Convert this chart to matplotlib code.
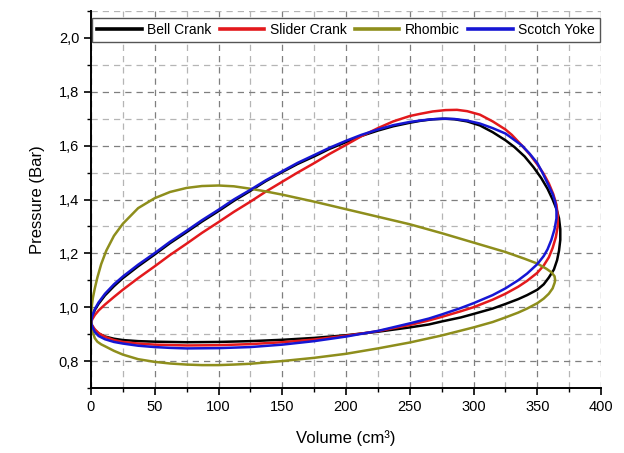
import matplotlib

matplotlib.use("Agg")
import matplotlib.pyplot as plt
from matplotlib.ticker import MultipleLocator, FuncFormatter

plt.rcParams["font.family"] = ["Liberation Sans", "DejaVu Sans"]

############### DATA #########################################
# each loop: start at V=0, lower branch to the right, back along the upper branch

bell_v = [0, 1, 3, 6, 11, 18, 25, 37, 50, 75, 100, 125, 150, 175, 200, 225,
          250, 265, 275, 290, 300, 315, 325, 335, 342, 350, 355, 359, 363,
          365.5, 367, 368, 368, 367, 365, 362, 358, 353, 347, 340, 332, 325,
          315, 305, 295, 285, 278, 268, 258, 250, 237, 225, 212, 200, 187, 175,
          162, 150, 137, 125, 112, 100, 87, 75, 62, 50, 37, 25, 18, 11, 6, 3,
          1, 0]
bell_p = [0.942, 0.93, 0.915, 0.902, 0.891, 0.883, 0.878, 0.874, 0.872, 0.870,
          0.871, 0.874, 0.879, 0.886, 0.896, 0.909, 0.925, 0.936, 0.947, 0.962,
          0.975, 0.995, 1.012, 1.03, 1.045, 1.065, 1.085, 1.11, 1.14, 1.175,
          1.21, 1.25, 1.29, 1.33, 1.365, 1.40, 1.44, 1.48, 1.52, 1.56, 1.595,
          1.62, 1.65, 1.675, 1.69, 1.698, 1.70, 1.698, 1.692, 1.685, 1.672,
          1.656, 1.636, 1.613, 1.588, 1.56, 1.532, 1.502, 1.468, 1.432, 1.395,
          1.357, 1.318, 1.279, 1.238, 1.196, 1.152, 1.108, 1.078, 1.044, 1.013,
          0.99, 0.965, 0.942]

slider_v = [0, 1, 3, 6, 11, 18, 25, 37, 50, 75, 100, 125, 150, 175, 200, 225,
            250, 265, 275, 290, 300, 315, 325, 335, 342, 350, 355, 359, 362,
            364.5, 366, 366, 365, 362.5, 359, 355, 350, 344, 338, 330, 325, 315,
            305, 295, 287, 278, 268, 258, 250, 237, 225, 212, 200, 187, 175,
            162, 150, 137, 125, 112, 100, 87, 75, 62, 50, 37, 25, 18, 11, 6, 3,
            1, 0]
slider_p = [0.942, 0.932, 0.918, 0.904, 0.89, 0.878, 0.871, 0.865, 0.861,
            0.858, 0.859, 0.863, 0.870, 0.880, 0.894, 0.911, 0.934, 0.951,
            0.964, 0.985, 1.0, 1.028, 1.05, 1.076, 1.098, 1.128, 1.155, 1.185,
            1.22, 1.26, 1.30, 1.34, 1.38, 1.42, 1.46, 1.495, 1.53, 1.568, 1.60,
            1.64, 1.66, 1.69, 1.715, 1.728, 1.733, 1.732, 1.727, 1.718, 1.71,
            1.69, 1.665, 1.635, 1.603, 1.569, 1.535, 1.50, 1.466, 1.429, 1.392,
            1.354, 1.316, 1.276, 1.236, 1.194, 1.152, 1.108, 1.065, 1.038, 1.01,
            0.988, 0.971, 0.955, 0.942]

rhombic_v = [0, 0.5, 1.5, 3, 5, 8, 11, 18, 25, 37, 50, 62, 75, 87, 100, 112,
             125, 150, 175, 200, 225, 250, 275, 300, 315, 325, 335, 342, 350,
             355, 359, 362, 363.5, 364, 363.5, 361, 357, 350, 340, 325, 300,
             275, 250, 225, 200, 175, 150, 137, 125, 112, 100, 87, 75, 62, 50,
             37, 25, 18, 12, 8, 5, 3, 1.5, 0.5, 0]
rhombic_p = [0.95, 0.93, 0.905, 0.885, 0.872, 0.862, 0.855, 0.838, 0.824,
             0.807, 0.797, 0.791, 0.787, 0.785, 0.785, 0.787, 0.79, 0.80,
             0.812, 0.827, 0.847, 0.869, 0.895, 0.925, 0.945, 0.962, 0.98,
             0.995, 1.015, 1.032, 1.05, 1.07, 1.09, 1.10, 1.115, 1.13, 1.143,
             1.162, 1.18, 1.205, 1.24, 1.275, 1.308, 1.336, 1.364, 1.392,
             1.418, 1.43, 1.44, 1.449, 1.452, 1.45, 1.443, 1.428, 1.405, 1.368,
             1.31, 1.265, 1.21, 1.16, 1.11, 1.07, 1.035, 1.0, 0.95]

scotch_v = [0, 1, 3, 6, 11, 18, 25, 37, 50, 62, 75, 100, 125, 150, 175, 200,
            225, 250, 265, 275, 290, 300, 315, 325, 335, 342, 350, 355, 358,
            361, 363.5, 365, 365, 364, 362, 358, 354, 350, 344, 338, 330, 325,
            315, 305, 295, 285, 275, 265, 258, 250, 237, 225, 212, 200, 187,
            175, 162, 150, 137, 125, 112, 100, 87, 75, 62, 50, 37, 25, 18, 11,
            6, 3, 1, 0]
scotch_p = [0.942, 0.928, 0.908, 0.893, 0.881, 0.871, 0.865, 0.857, 0.852,
            0.849, 0.847, 0.848, 0.852, 0.861, 0.874, 0.891, 0.912, 0.94,
            0.958, 0.973, 0.997, 1.015, 1.045, 1.07, 1.10, 1.125, 1.16, 1.19,
            1.215, 1.25, 1.29, 1.33, 1.36, 1.39, 1.42, 1.46, 1.50, 1.535, 1.57,
            1.60, 1.628, 1.645, 1.665, 1.682, 1.693, 1.699, 1.70, 1.697, 1.693,
            1.688, 1.676, 1.66, 1.64, 1.618, 1.592, 1.565, 1.536, 1.505, 1.471,
            1.436, 1.40, 1.362, 1.323, 1.284, 1.243, 1.201, 1.158, 1.114, 1.085,
            1.05, 1.018, 0.993, 0.967, 0.942]

series = [
    ("Bell Crank", bell_v, bell_p, "black"),
    ("Slider Crank", slider_v, slider_p, "#e3191c"),
    ("Rhombic", rhombic_v, rhombic_p, "#8e8e1c"),
    ("Scotch Yoke", scotch_v, scotch_p, "#1616d4"),
]

################# PLOT ################
fig = plt.figure(figsize=(6.24, 4.53), dpi=100)
ax = fig.add_axes([0.1458, 0.1435, 0.8175, 0.8322])

for name, v, p, col in series:
    ax.plot(v, p, color=col, lw=1.8, label=name, solid_joinstyle="round")

ax.set_xlim(0, 400)
ax.set_ylim(0.7, 2.1)

ax.xaxis.set_major_locator(MultipleLocator(50))
ax.xaxis.set_minor_locator(MultipleLocator(25))
ax.yaxis.set_major_locator(MultipleLocator(0.2))
ax.yaxis.set_minor_locator(MultipleLocator(0.1))
ax.yaxis.set_major_formatter(FuncFormatter(lambda y, _: f"{y:.1f}".replace(".", ",")))

ax.grid(which="major", color="#7f7f7f", lw=0.9, ls=(0, (5, 4)))
ax.grid(which="minor", color="#b5b5b5", lw=0.9, ls=(0, (5, 4)))
ax.set_axisbelow(True)

for s in ["top", "right"]:
    ax.spines[s].set_visible(False)
for s in ["left", "bottom"]:
    ax.spines[s].set_linewidth(1.4)

ax.tick_params(which="major", direction="out", length=5, width=1.2, labelsize=10.5)
ax.tick_params(which="minor", direction="out", length=3, width=1.0)

ax.set_xlabel("Volume (cm³)", fontsize=12, labelpad=12)
ax.set_ylabel("Pressure (Bar)", fontsize=12, labelpad=10)

leg = ax.legend(loc="upper center", bbox_to_anchor=(0.5, 1.0), ncol=4,
                fontsize=10, handlelength=3.2, handletextpad=0.4,
                columnspacing=0.6, borderpad=0.35, fancybox=False,
                framealpha=1, edgecolor="#555555")
leg.get_frame().set_linewidth(1.0)
for line in leg.get_lines():
    line.set_linewidth(2.6)

fig.savefig("out.png", dpi=100)
